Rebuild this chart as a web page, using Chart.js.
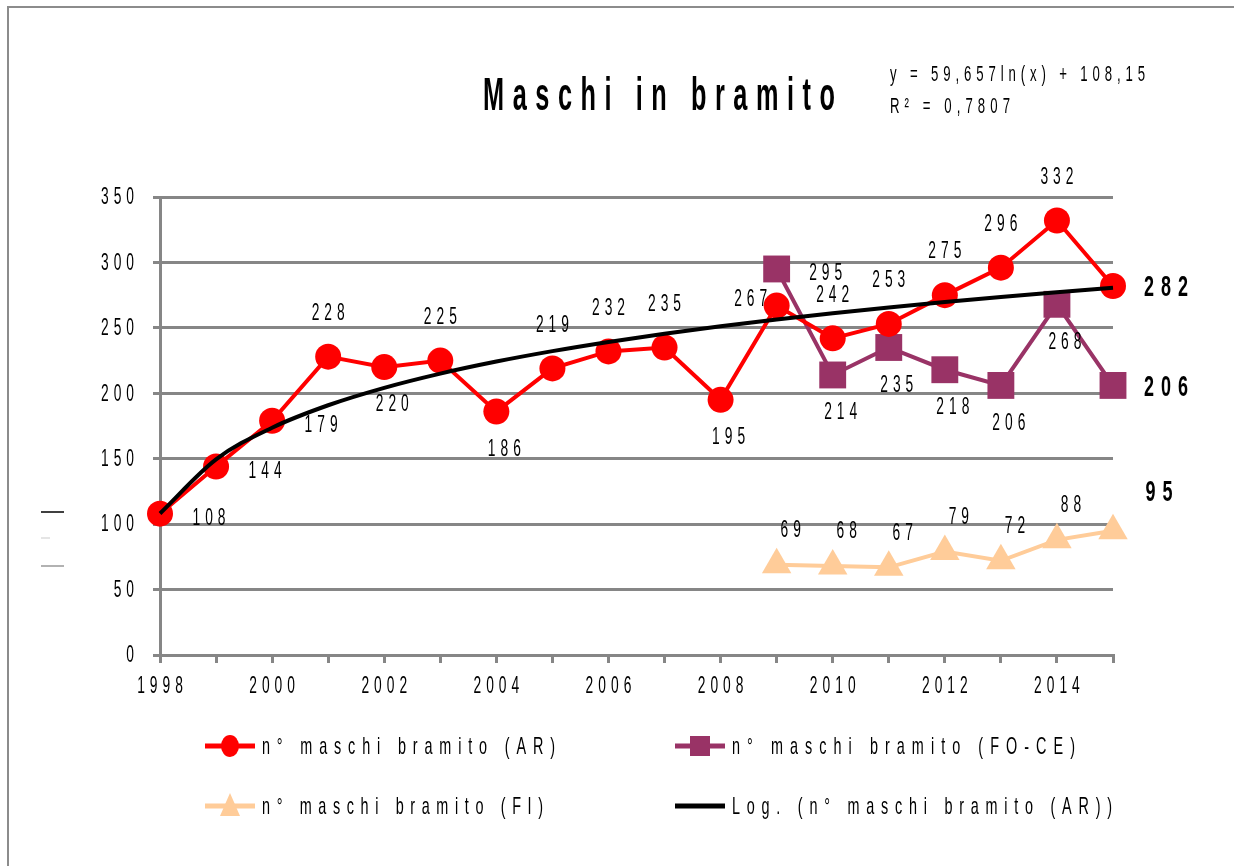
<!DOCTYPE html>
<html>
<head>
<meta charset="utf-8">
<script src="https://cdn.jsdelivr.net/npm/chart.js@4.4.0/dist/chart.umd.min.js"></script>
<style>
html,body{margin:0;padding:0;background:#fff;}
#wrap{position:absolute;left:0;top:0;width:1234px;height:866px;}
</style>
</head>
<body>
<div id="wrap"><canvas id="c" width="1234" height="866"></canvas></div>
<script>
const years = ['1998','1999','2000','2001','2002','2003','2004','2005','2006','2007','2008','2009','2010','2011','2012','2013','2014','2015'];
const arValues = [108,144,179,228,220,225,186,219,232,235,195,267,242,253,275,296,332,282];
const foceValues = [null,null,null,null,null,null,null,null,null,null,null,295,214,235,218,206,268,206];
const fiValues = [null,null,null,null,null,null,null,null,null,null,null,69,68,67,79,72,88,95];
const trendValues = [108.15,149.50,173.69,190.85,204.16,215.04,224.24,232.20,239.23,245.51,251.20,256.39,261.16,265.59,269.70,273.55,277.17,280.58];
const yTickValues = [0,50,100,150,200,250,300,350];
const seriesNames = ['n° maschi bramito (AR)','n° maschi bramito (FO-CE)','n° maschi bramito (FI)','Log. (n° maschi bramito (AR))'];
const titleText = 'Maschi in bramito';
const equationLines = ['y = 59,657ln(x) + 108,15','R² = 0,7807'];

// label placement styles (not data)
const arPlace = ['r','r','r','a','b','a','b','a','a','a','b','l','a','a','a','a','a','R'];
const focePlace = [null,null,null,null,null,null,null,null,null,null,null,'r','b','b','b','b','b','R'];
const fiPlace = [null,null,null,null,null,null,null,null,null,null,null,'fa','fa','fa','fa','fa','fa','FR'];
const placeOffsets = {r:[49,5],a:[0,-43],b:[8,38],l:[-26,-6],R:[53,2],fa:[14,-34],FR:[46,-38]};

const FONT = '"Liberation Sans", Arial, sans-serif';
const GRAY = '#868686';
const RED = '#FF0000', PLUM = '#993366', PEACH = '#FFCC99';

function drawSpaced(ctx, text, x, y, o){
  ctx.save();
  ctx.letterSpacing = '0px';
  ctx.font = (o.bold?'bold ':'') + o.size + 'px ' + FONT;
  ctx.textBaseline = 'middle';
  ctx.textAlign = 'left';
  ctx.fillStyle = o.color || '#000';
  const chars = [...text];
  const ws = chars.map(c => ctx.measureText(c).width * o.sx);
  const glyphSum = ws.reduce((a,b)=>a+b,0);
  let sp = o.sp || 0;
  if (o.width && chars.length>1) sp = (o.width - glyphSum) / (chars.length-1);
  const total = glyphSum + sp*(chars.length-1);
  let cx = o.align==='center' ? x-total/2 : (o.align==='right' ? x-total : x);
  chars.forEach((c,i)=>{
    ctx.save(); ctx.translate(cx,y); ctx.scale(o.sx,1); ctx.fillText(c,0,0); ctx.restore();
    cx += ws[i] + sp;
  });
  ctx.restore();
}

const LBL = {size:23, sx:0.6, sp:5, align:'center'};
const BLBL = {size:30, sx:0.6, sp:7, bold:true, align:'center'};

const textPlugin = {
  id:'textPlugin',
  beforeDraw(chart){
    const ctx = chart.ctx;
    ctx.save();
    ctx.strokeStyle = '#8c8c8c'; ctx.lineWidth = 2;
    ctx.beginPath(); ctx.moveTo(8,866); ctx.lineTo(8,7); ctx.lineTo(1234,7); ctx.stroke();
    ctx.lineWidth = 1.5;
    ctx.strokeStyle = '#000'; ctx.beginPath(); ctx.moveTo(41,512); ctx.lineTo(64,512); ctx.stroke();
    ctx.strokeStyle = '#ddd'; ctx.beginPath(); ctx.moveTo(41,538); ctx.lineTo(50,538); ctx.stroke();
    ctx.strokeStyle = '#999'; ctx.beginPath(); ctx.moveTo(41,566); ctx.lineTo(64,566); ctx.stroke();
    ctx.restore();
  },
  afterDatasetsDraw(chart){
    const ctx = chart.ctx;
    const sets = [[1,arValues,arPlace],[2,foceValues,focePlace],[3,fiValues,fiPlace]];
    sets.forEach(([di,vals,place])=>{
      const meta = chart.getDatasetMeta(di);
      vals.forEach((v,i)=>{
        if(v===null) return;
        const p = place[i]; const off = placeOffsets[p];
        const el = meta.data[i];
        const st = (p==='R'||p==='FR') ? BLBL : LBL;
        drawSpaced(ctx, String(v), el.x+off[0], el.y+off[1], st);
      });
    });
  },
  afterDraw(chart){
    const ctx = chart.ctx;
    // axis tick labels
    const xs = chart.scales.x, ys = chart.scales.y;
    years.forEach((yr,i)=>{
      if(i%2!==0) return;
      drawSpaced(ctx, yr, xs.getPixelForTick(i), 687, LBL);
    });
    yTickValues.forEach(v=>{
      drawSpaced(ctx, String(v), 134, ys.getPixelForValue(v)+1, Object.assign({},LBL,{align:'right'}));
    });
    // title
    drawSpaced(ctx, titleText, 659, 97, {size:46, bold:true, sx:0.55, width:352, align:'center'});
    // equation
    drawSpaced(ctx, equationLines[0], 890, 75, {size:22, sx:0.6, width:255});
    drawSpaced(ctx, equationLines[1], 890, 107, {size:22, sx:0.6, width:120});
    // legend
    const items = [
      {x:205,y:746,ds:1,w:293},{x:675,y:746,ds:2,w:343},{x:205,y:806,ds:3,w:281},{x:675,y:806,ds:0,w:380}
    ];
    ctx.save();
    items.forEach(it=>{
      const d = chart.data.datasets[it.ds];
      ctx.strokeStyle = d.borderColor; ctx.lineWidth = 5;
      ctx.beginPath(); ctx.moveTo(it.x, it.y); ctx.lineTo(it.x+50, it.y); ctx.stroke();
      const cx = it.x+25;
      ctx.fillStyle = d.backgroundColor;
      if(d.pointStyle==='circle'){ ctx.beginPath(); ctx.ellipse(cx,it.y,9,11,0,0,Math.PI*2); ctx.fill(); }
      else if(d.pointStyle==='rect'){ ctx.fillRect(cx-10,it.y-10,20,20); }
      else if(d.pointStyle==='triangle'){ ctx.beginPath(); ctx.moveTo(cx,it.y-13); ctx.lineTo(cx+10,it.y+10); ctx.lineTo(cx-10,it.y+10); ctx.closePath(); ctx.fill(); }
      drawSpaced(ctx, d.label, it.x+57, it.y+1, {size:24, sx:0.6, width:it.w});
    });
    ctx.restore();
  }
};

new Chart(document.getElementById('c'), {
  type:'line',
  data:{
    labels: years,
    datasets:[
      {label:seriesNames[3], data:trendValues, borderColor:'#000', backgroundColor:'#000', borderWidth:4, pointRadius:0, cubicInterpolationMode:'monotone', order:0},
      {label:seriesNames[0], data:arValues, borderColor:RED, backgroundColor:RED, borderWidth:4, pointStyle:'circle', pointRadius:13, pointBorderWidth:0, order:1},
      {label:seriesNames[1], data:foceValues, borderColor:PLUM, backgroundColor:PLUM, borderWidth:4, pointStyle:'rect', pointRadius:19, pointBorderWidth:0, order:2},
      {label:seriesNames[2], data:fiValues, borderColor:PEACH, backgroundColor:PEACH, borderWidth:4, pointStyle:'triangle', pointRadius:17, pointBorderWidth:0, order:3}
    ]
  },
  options:{
    responsive:false, animation:false, devicePixelRatio:1,
    layout:{padding:{top:197,left:60,right:121,bottom:166}},
    plugins:{legend:{display:false},title:{display:false},tooltip:{enabled:false}},
    scales:{
      x:{
        offset:false,
        afterFit(s){ s.height = 45; },
        grid:{display:true, drawOnChartArea:false, drawTicks:true, tickLength:8, tickColor:GRAY, tickWidth:3, color:GRAY, lineWidth:3},
        border:{display:true, color:GRAY, width:3},
        ticks:{autoSkip:false, maxRotation:0, padding:8, color:'rgba(0,0,0,0)', font:{family:FONT,size:20},
          callback:(v,i)=> i%2===0 ? years[i] : ''}
      },
      y:{
        min:yTickValues[0], max:yTickValues[yTickValues.length-1],
        afterFit(s){ s.width = 100; },
        afterBuildTicks(s){ s.ticks = yTickValues.map(v=>({value:v})); },
        grid:{color:GRAY, lineWidth:3, drawTicks:true, tickLength:7, tickColor:GRAY, tickWidth:3},
        border:{display:true, color:GRAY, width:3},
        ticks:{padding:14, color:'rgba(0,0,0,0)', font:{family:FONT,size:20}, callback:v=>String(v)}
      }
    }
  },
  plugins:[textPlugin]
});
</script>
</body>
</html>
